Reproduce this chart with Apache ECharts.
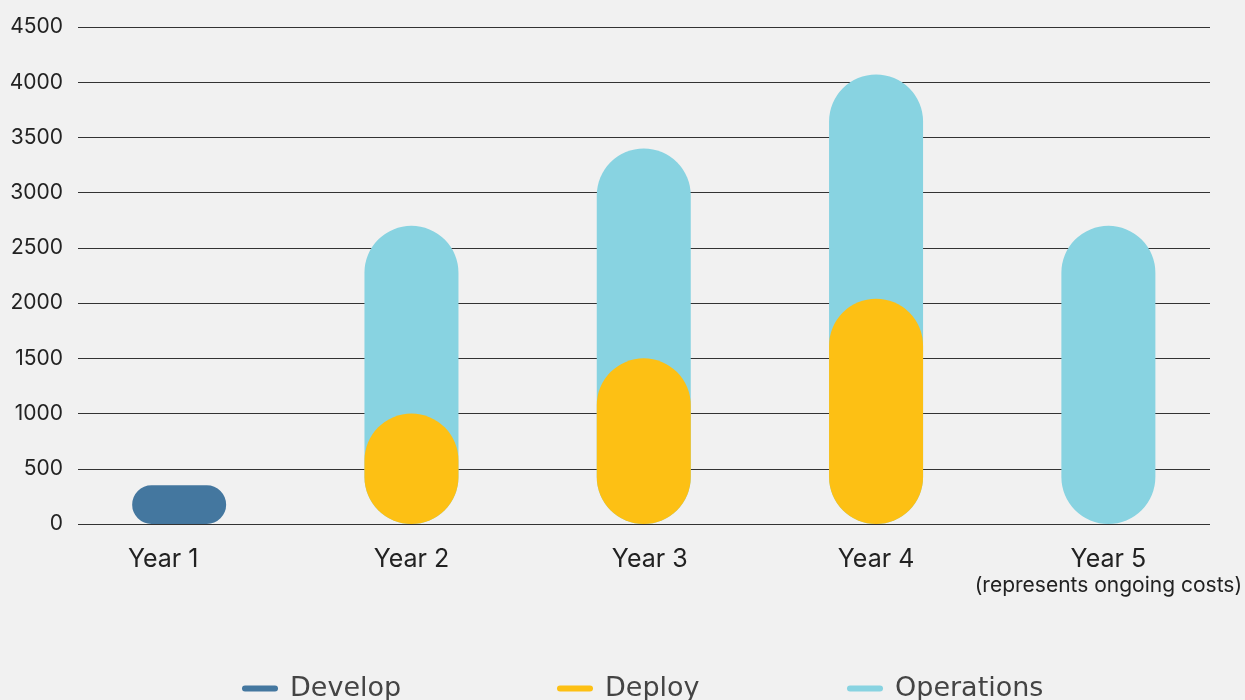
<!DOCTYPE html>
<html>
<head>
<meta charset="utf-8">
<script src="https://cdn.jsdelivr.net/npm/echarts@6/dist/echarts.min.js"></script>
<style>
html,body{margin:0;padding:0;background:#f1f1f1;}
#chart{width:1245px;height:700px;}
</style>
</head>
<body>
<div id="chart"></div>
<script>
const categories = ['Year 1', 'Year 2', 'Year 3', 'Year 4', 'Year 5'];
const yearNote = '(represents ongoing costs)';
const develop = [350, null, null, null, null];
const deploy = [null, 1000, 1500, 2040, null];
const operations = [null, 2700, 3400, 4070, 2700];
const yMin = 0, yMax = 4500, yInterval = 500;

const C_DEV = '#44779f', C_DEP = '#fdc014', C_OPS = '#88d3e1';
const FONT = 'Inter, "Noto Sans", sans-serif';

const chart = echarts.init(document.getElementById('chart'));
const pill = 'path://M3,0 H33 A3,3 0 0 1 33,6 H3 A3,3 0 0 1 3,0 Z';
function legendAt(name, left) {
  return {
    data: [name], left: left, top: 675, padding: 0,
    icon: pill, itemWidth: 36, itemHeight: 6, itemGap: 0,
    textStyle: { fontFamily: 'DejaVu Sans', fontSize: 27, color: '#444', padding: [6, 0, 0, 7] },
    selectedMode: false
  };
}
const barBase = { barWidth: 94, barGap: '-100%', xAxisIndex: 1, yAxisIndex: 1,
  itemStyle: { borderRadius: 47 }, emphasis: { disabled: true } };

chart.setOption({
  backgroundColor: '#f1f1f1',
  animation: false,
  legend: [legendAt('Develop', 242), legendAt('Deploy', 557), legendAt('Operations', 847)],
  grid: [
    { left: 78, right: 35, top: 27, bottom: 176 },
    { left: 63, right: 20, top: 27, bottom: 176 }
  ],
  xAxis: [
    { type: 'category', gridIndex: 0, data: categories, show: false },
    { type: 'category', gridIndex: 1, data: categories,
      axisLine: { show: false }, axisTick: { show: false },
      axisLabel: {
        margin: 21, interval: 0, color: '#222',
        formatter: function (v, i) {
          const key = ['a', 'b', 'c', 'b', 'b'][i];
          let s = '{' + key + '|' + v + '}';
          if (i === 4) s += '\n{n|' + yearNote + '}';
          return s;
        },
        rich: {
          a: { fontFamily: FONT, fontSize: 25, color: '#222', lineHeight: 28, padding: [0, 32, 0, 0] },
          b: { fontFamily: FONT, fontSize: 25, color: '#222', lineHeight: 28 },
          c: { fontFamily: FONT, fontSize: 25, color: '#222', lineHeight: 28, padding: [0, 0, 0, 12] },
          n: { fontFamily: FONT, fontSize: 21, color: '#222', lineHeight: 26 }
        }
      }
    }
  ],
  yAxis: [
    { type: 'value', gridIndex: 0, min: yMin, max: yMax, interval: yInterval,
      axisLine: { show: false }, axisTick: { show: false },
      axisLabel: { margin: 15, fontFamily: FONT, fontSize: 21, color: '#222',
        formatter: function (v) { return String(v); } },
      splitLine: { lineStyle: { color: '#333', width: 1 } }
    },
    { type: 'value', gridIndex: 1, min: yMin, max: yMax, interval: yInterval, show: false,
      splitLine: { show: false } }
  ],
  series: [
    Object.assign({}, barBase, { name: 'Develop', type: 'bar', data: develop, color: C_DEV, z: 2 }),
    Object.assign({}, barBase, { name: 'Operations', type: 'bar', data: operations, color: C_OPS, z: 2 }),
    Object.assign({}, barBase, { name: 'Deploy', type: 'bar', data: deploy, color: C_DEP, z: 3 })
  ]
});
</script>
</body>
</html>
